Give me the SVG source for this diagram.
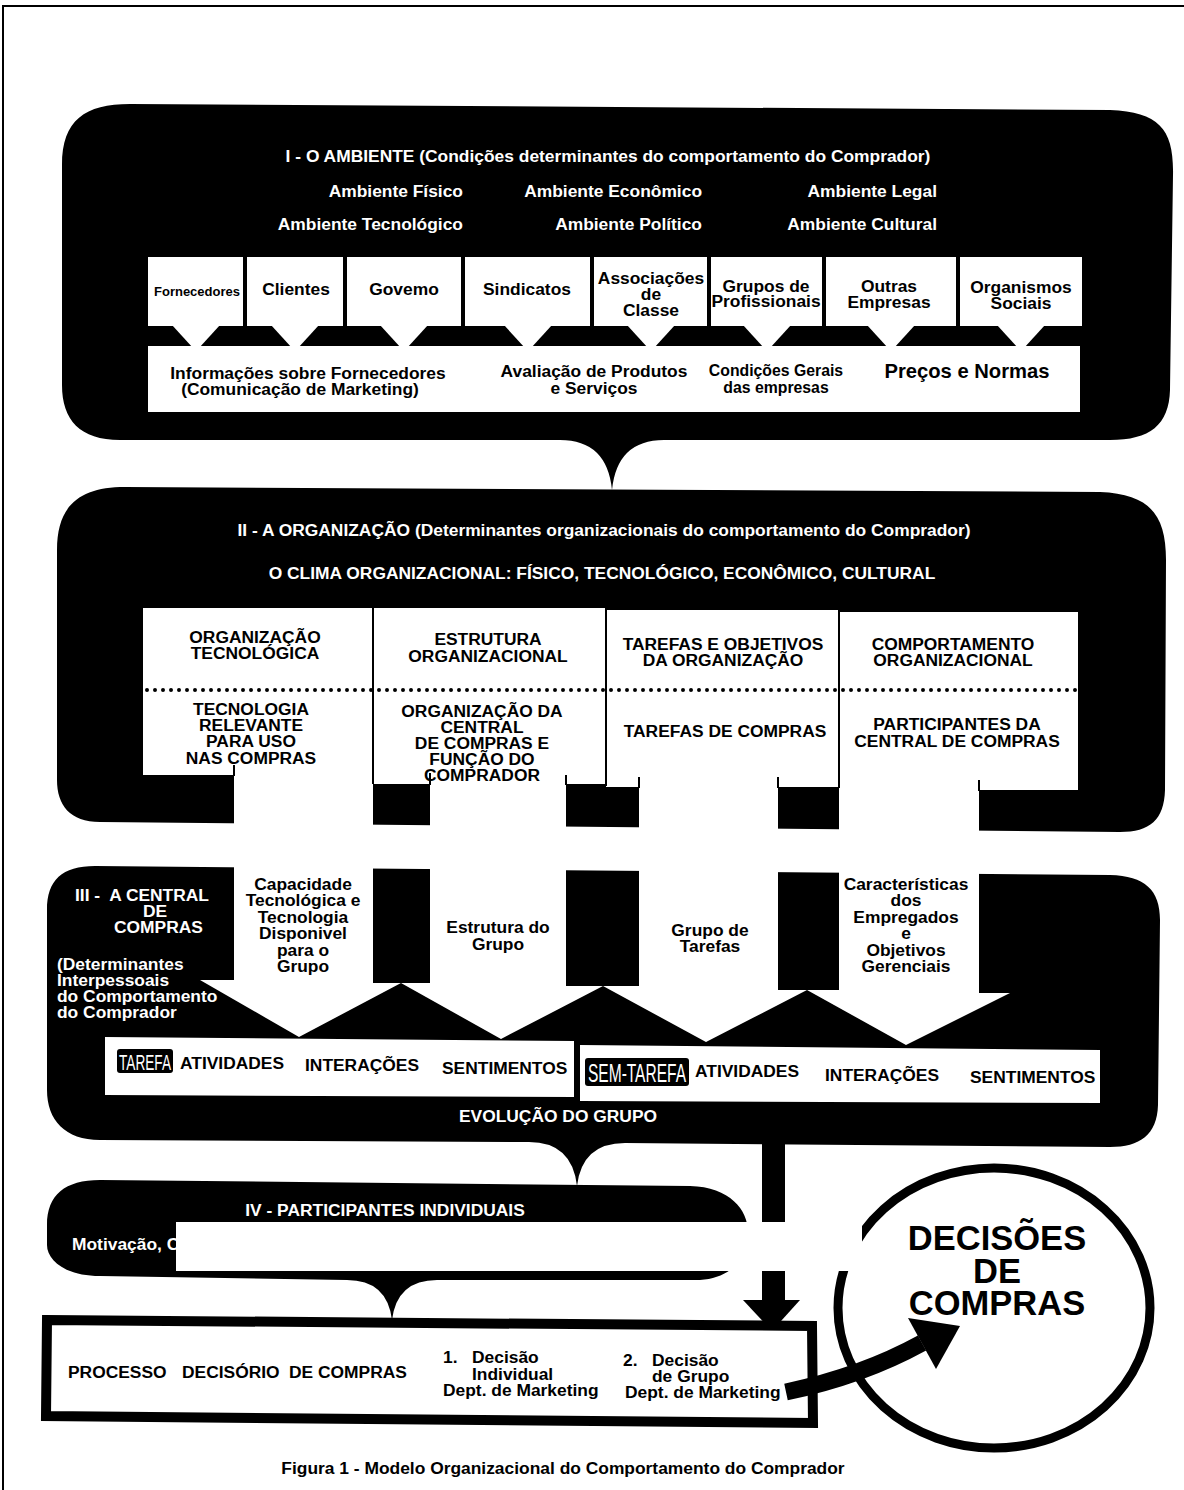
<svg xmlns="http://www.w3.org/2000/svg" width="1184" height="1490" viewBox="0 0 1184 1490">
  <style>
    .t { font-family: "Liberation Sans", Arial, sans-serif; font-weight: bold; }
    .w { fill: #fff; }
    .k { fill: #000; }
    .c { text-anchor: middle; }
    .e { text-anchor: end; }
    .s17 { font-size: 17.4px; }
    .div { stroke: #000; stroke-width: 2; fill: none; }
    .tag { font-family: "Liberation Sans", Arial, sans-serif; font-weight: normal; fill: #fff; }
  </style>

  <rect x="0" y="0" width="1184" height="1490" fill="#fff"/>
  <!-- page frame -->
  <rect x="3" y="6" width="1200" height="1500" fill="none" stroke="#000" stroke-width="2"/>

  <!-- I - O AMBIENTE -->
  <g id="ambiente">
    <path class="k" d="M62 165 C62 120 85 104 130 104 L1110 110 C1160 112 1174 130 1173 175 L1170 390 C1169 425 1150 440 1110 440 L664 440 Q617 440 612 490 Q607 440 560 440 L120 440 C80 440 62 420 62 385 Z"/>
    <g class="t w s17">
      <text class="c" x="608" y="162">I - O AMBIENTE (Condições determinantes do comportamento do Comprador)</text>
      <text class="e" x="463" y="197">Ambiente Físico</text>
      <text class="e" x="702" y="197">Ambiente Econômico</text>
      <text class="e" x="937" y="197">Ambiente Legal</text>
      <text class="e" x="463" y="230">Ambiente Tecnológico</text>
      <text class="e" x="702" y="230">Ambiente Político</text>
      <text class="e" x="937" y="230">Ambiente Cultural</text>
    </g>
    <!-- source boxes -->
    <g class="w">
      <rect x="148" y="257" width="95" height="69"/>
      <rect x="247" y="257" width="96" height="69"/>
      <rect x="347" y="257" width="114" height="69"/>
      <rect x="465" y="257" width="125" height="69"/>
      <rect x="594" y="257" width="113" height="69"/>
      <rect x="711" y="257" width="111" height="69"/>
      <rect x="826" y="257" width="130" height="69"/>
      <rect x="960" y="257" width="122" height="69"/>
      <!-- funnels into the information bar -->
      <polygon points="172,325 220,325 199,348 193,348"/>
      <polygon points="271,325 319,325 298,348 292,348"/>
      <polygon points="380,325 428,325 407,348 401,348"/>
      <polygon points="504,325 552,325 531,348 525,348"/>
      <polygon points="627,325 675,325 654,348 648,348"/>
      <polygon points="743,325 791,325 770,348 764,348"/>
      <polygon points="867,325 915,325 894,348 888,348"/>
      <polygon points="997,325 1045,325 1024,348 1018,348"/>
      <rect x="148" y="346" width="932" height="66"/>
    </g>
    <g class="t k s17">
      <text class="c" x="197" y="296" font-size="13">Fornecedores</text>
      <text class="c" x="296" y="295">Clientes</text>
      <text class="c" x="404" y="295">Govemo</text>
      <text class="c" x="527" y="295">Sindicatos</text>
      <text class="c"><tspan x="651" y="284">Associações</tspan><tspan x="651" y="300">de</tspan><tspan x="651" y="316">Classe</tspan></text>
      <text class="c"><tspan x="766" y="292">Grupos de</tspan><tspan x="766" y="307">Profissionais</tspan></text>
      <text class="c"><tspan x="889" y="292">Outras</tspan><tspan x="889" y="308">Empresas</tspan></text>
      <text class="c"><tspan x="1021" y="293">Organismos</tspan><tspan x="1021" y="309">Sociais</tspan></text>
      <text class="c"><tspan x="308" y="379">Informações sobre Fornecedores</tspan><tspan x="300" y="395">(Comunicação de Marketing)</tspan></text>
      <text class="c"><tspan x="594" y="377">Avaliação de Produtos</tspan><tspan x="594" y="394">e Serviços</tspan></text>
      <text class="c" font-size="15.8"><tspan x="776" y="376">Condições Gerais</tspan><tspan x="776" y="393">das empresas</tspan></text>
      <text class="c" x="967" y="378" font-size="20.2">Preços e Normas</text>
    </g>
  </g>

  <!-- II - A ORGANIZAÇÃO -->
  <g id="organizacao">
    <path class="k" d="M57 550 C57 505 80 487 125 487 L1100 492 C1150 494 1166 515 1166 560 L1165 790 C1164 820 1150 832 1120 832 L100 822 C70 822 57 805 57 780 Z"/>
    <g class="t w s17">
      <text class="c" x="604" y="536">II - A ORGANIZAÇÃO (Determinantes organizacionais do comportamento do Comprador)</text>
      <text class="c" x="602" y="579">O CLIMA ORGANIZACIONAL: FÍSICO, TECNOLÓGICO, ECONÔMICO, CULTURAL</text>
    </g>
    <g class="w">
      <rect x="143" y="608" width="231" height="167"/>
      <rect x="374" y="608" width="232" height="176"/>
      <rect x="606" y="610" width="234" height="177"/>
      <rect x="840" y="612" width="238" height="178"/>
    </g>
  </g>

  <!-- III - A CENTRAL DE COMPRAS -->
  <g id="central">
    <path class="k" d="M47 910 C47 880 62 866 95 866 L1110 875 C1145 876 1160 890 1160 920 L1158 1105 C1157 1135 1140 1147 1110 1147 L625 1143 Q582 1143 577 1186 Q572 1142 529 1142 L100 1140 C65 1140 47 1120 47 1090 Z"/>
    <g class="t w s17">
      <text xml:space="preserve"><tspan x="75" y="901">III -  A CENTRAL</tspan><tspan x="143" y="917">DE</tspan><tspan x="114" y="933">COMPRAS</tspan></text>
      <text><tspan x="57" y="970">(Determinantes</tspan><tspan x="57" y="986">Interpessoais</tspan><tspan x="57" y="1002">do Comportamento</tspan><tspan x="57" y="1018">do Comprador</tspan></text>
      <text class="c" x="558" y="1122">EVOLUÇÃO DO GRUPO</text>
    </g>
  </g>

  <!-- white arrows from the organisation columns into the central -->
  <g id="connectors">
    <g class="w">
      <polygon points="234,770 234,980 200,980 299,1037 401,983 373,983 373,770"/>
      <polygon points="430,780 430,983 401,983 501,1039 603,986 566,986 566,780"/>
      <polygon points="639,783 639,986 603,986 706,1042 807,990 778,990 778,783"/>
      <polygon points="839,786 839,990 807,990 906,1045 1010,993 979,993 979,786"/>
    </g>
    <g class="div">
      <line x1="373" y1="608" x2="373" y2="784"/>
      <line x1="606" y1="608" x2="606" y2="786"/>
      <line x1="839" y1="610" x2="839" y2="788"/>
      <line x1="234" y1="765" x2="234" y2="776"/>
      <line x1="430" y1="773" x2="430" y2="785"/>
      <line x1="566" y1="775" x2="566" y2="785"/>
      <line x1="639" y1="777" x2="639" y2="788"/>
      <line x1="778" y1="777" x2="778" y2="788"/>
      <line x1="979" y1="780" x2="979" y2="791"/>
    </g>
    <line x1="147" y1="690" x2="1076" y2="690" stroke="#000" stroke-width="4" stroke-linecap="round" stroke-dasharray="0 8"/>
    <!-- down arrow from the central to the decision process -->
    <rect class="k" x="762" y="1140" width="23" height="163"/>
    <polygon class="k" points="743,1300 800,1300 772,1331"/>
  </g>

  <g id="colunas" class="t k s17">
    <text class="c"><tspan x="255" y="643">ORGANIZAÇÃO</tspan><tspan x="255" y="659">TECNOLÓGICA</tspan></text>
    <text class="c"><tspan x="251" y="715">TECNOLOGIA</tspan><tspan x="251" y="731">RELEVANTE</tspan><tspan x="251" y="747">PARA USO</tspan><tspan x="251" y="764">NAS COMPRAS</tspan></text>
    <text class="c"><tspan x="488" y="645">ESTRUTURA</tspan><tspan x="488" y="662">ORGANIZACIONAL</tspan></text>
    <text class="c"><tspan x="482" y="717">ORGANIZAÇÃO DA</tspan><tspan x="482" y="733">CENTRAL</tspan><tspan x="482" y="749">DE COMPRAS E</tspan><tspan x="482" y="765">FUNÇÃO DO</tspan><tspan x="482" y="781">COMPRADOR</tspan></text>
    <text class="c"><tspan x="723" y="650">TAREFAS E OBJETIVOS</tspan><tspan x="723" y="666">DA ORGANIZAÇÃO</tspan></text>
    <text class="c" x="725" y="737">TAREFAS DE COMPRAS</text>
    <text class="c"><tspan x="953" y="650">COMPORTAMENTO</tspan><tspan x="953" y="666">ORGANIZACIONAL</tspan></text>
    <text class="c"><tspan x="957" y="730">PARTICIPANTES DA</tspan><tspan x="957" y="747">CENTRAL DE COMPRAS</tspan></text>
    <!-- labels inside the arrows -->
    <text class="c"><tspan x="303" y="890">Capacidade</tspan><tspan x="303" y="906">Tecnológica e</tspan><tspan x="303" y="923">Tecnologia</tspan><tspan x="303" y="939">Disponivel</tspan><tspan x="303" y="956">para o</tspan><tspan x="303" y="972">Grupo</tspan></text>
    <text class="c"><tspan x="498" y="933">Estrutura do</tspan><tspan x="498" y="950">Grupo</tspan></text>
    <text class="c"><tspan x="710" y="936">Grupo de</tspan><tspan x="710" y="952">Tarefas</tspan></text>
    <text class="c"><tspan x="906" y="890">Características</tspan><tspan x="906" y="906">dos</tspan><tspan x="906" y="923">Empregados</tspan><tspan x="906" y="939">e</tspan><tspan x="906" y="956">Objetivos</tspan><tspan x="906" y="972">Gerenciais</tspan></text>
  </g>

  <!-- group activity bar -->
  <g id="tarefas">
    <polygon class="w" points="105,1037 574,1041 574,1097 105,1095"/>
    <polygon class="w" points="580,1045 1100,1050 1100,1103 580,1101"/>
    <rect class="k" x="117" y="1049" width="56" height="24" rx="3"/>
    <text class="tag" x="119" y="1070" font-size="22" textLength="52" lengthAdjust="spacingAndGlyphs">TAREFA</text>
    <g class="t k s17">
      <text x="180" y="1069">ATIVIDADES</text>
      <text x="305" y="1071">INTERAÇÕES</text>
      <text x="442" y="1074">SENTIMENTOS</text>
    </g>
    <rect class="k" x="585" y="1058" width="104" height="28" rx="3"/>
    <text class="tag" x="588" y="1082" font-size="25" textLength="98" lengthAdjust="spacingAndGlyphs">SEM-TAREFA</text>
    <g class="t k s17">
      <text x="695" y="1077">ATIVIDADES</text>
      <text x="825" y="1081">INTERAÇÕES</text>
      <text x="970" y="1083">SENTIMENTOS</text>
    </g>
  </g>

  <!-- IV - PARTICIPANTES INDIVIDUAIS -->
  <g id="participantes">
    <path class="k" d="M47 1225 C47 1195 65 1180 100 1180 L690 1186 C730 1187 748 1210 748 1232 C748 1260 730 1278 700 1280 L437 1280 Q397 1280 392 1320 Q387 1280 347 1280 L100 1276 C65 1276 47 1260 47 1245 Z"/>
    <g class="t w s17">
      <text class="c" x="385" y="1216">IV - PARTICIPANTES INDIVIDUAIS</text>
      <text x="72" y="1250">Motivação, C</text>
    </g>
  </g>

  <!-- processo decisório -->
  <g id="processo">
    <path d="M47 1320 L812 1326 L813 1423 L46 1416 Z" fill="#fff" stroke="#000" stroke-width="10" stroke-linejoin="miter"/>
    <g class="t k s17">
      <text y="1378"><tspan x="68">PROCESSO</tspan><tspan x="182">DECISÓRIO</tspan><tspan x="289">DE COMPRAS</tspan></text>
      <text><tspan x="443" y="1363">1.</tspan><tspan x="472" y="1363">Decisão</tspan><tspan x="472" y="1380">Individual</tspan><tspan x="443" y="1396">Dept. de Marketing</tspan></text>
      <text><tspan x="623" y="1366">2.</tspan><tspan x="652" y="1366">Decisão</tspan><tspan x="652" y="1382">de Grupo</tspan><tspan x="625" y="1398">Dept. de Marketing</tspan></text>
    </g>
  </g>

  <!-- decisões de compras -->
  <g id="decisoes">
    <ellipse cx="994" cy="1308" rx="156" ry="140" fill="none" stroke="#000" stroke-width="9"/>
    <text class="t k c" font-size="34.5"><tspan x="997" y="1250">DECISÕES</tspan><tspan x="997" y="1283">DE</tspan><tspan x="997" y="1315">COMPRAS</tspan></text>
  </g>

  <g id="seta-decisao">
    <path d="M786 1392 Q862 1376 922 1343" fill="none" stroke="#000" stroke-width="17"/>
    <polygon class="k" points="908,1318 960,1326 936,1369"/>
  </g>

  <!-- blanked strip -->
  <rect class="w" x="176" y="1222" width="686" height="49"/>

  <text class="t k c s17" x="563" y="1474">Figura 1 - Modelo Organizacional do Comportamento do Comprador</text>
</svg>
